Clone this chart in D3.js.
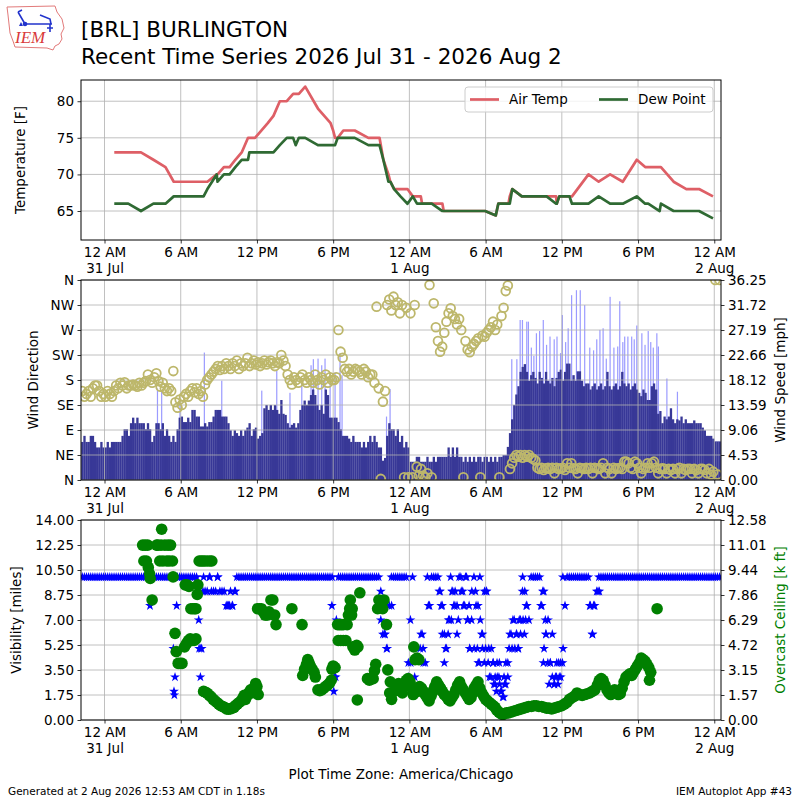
<!DOCTYPE html>
<html>
<head>
<meta charset="utf-8">
<script src="https://cdn.jsdelivr.net/npm/d3@7"></script>
<style>
  body { margin: 0; background: #fff; }
  svg { font-family: "DejaVu Sans", sans-serif; }
</style>
</head>
<body>
<svg id="chart"></svg>
<script>
// ---- data (hours since 31 Jul 00:00 local) ----
var hourTicks = [0, 6, 12, 18, 24, 30, 36, 42, 48];
var hourTickLabels = ["12 AM", "6 AM", "12 PM", "6 PM", "12 AM", "6 AM", "12 PM", "6 PM", "12 AM"];
var dayTickLabels = ["31 Jul", "", "", "", "1 Aug", "", "", "", "2 Aug"];

var tempTicks = [65, 70, 75, 80];
var dirTicks = [0, 45, 90, 135, 180, 225, 270, 315, 360];
var dirTickLabels = ["N", "NE", "E", "SE", "S", "SW", "W", "NW", "N"];
var speedTickLabels = ["0.00", "4.53", "9.06", "13.59", "18.12", "22.66", "27.19", "31.72", "36.25"];
var visTickLabels = ["0.00", "1.75", "3.50", "5.25", "7.00", "8.75", "10.50", "12.25", "14.00"];
var ceilTickLabels = ["0.00", "1.57", "3.15", "4.72", "6.29", "7.86", "9.44", "11.01", "12.58"];
var speedMax = 36.25, visMax = 14, ceilMax = 12.58;

// hourly / special observations
var obsHours = [0.77, 1.87, 2.87, 3.85, 4.8, 5.45, 6.85, 7.8, 8.1, 8.83, 8.9, 9.4, 9.85, 10.3, 10.8,
  11.3, 11.4, 11.85, 12.85, 13.3, 13.8, 14.35, 14.85, 15.05, 15.3, 15.8, 16.8, 17.8, 18.0, 18.15,
  18.36, 18.8, 19.7, 20.77, 21.65, 21.95, 22.35, 22.5, 22.8, 23.3, 23.85, 24.27, 24.6, 24.9, 25.0,
  25.76, 26.6, 26.7, 27.8, 28.8, 29.96, 30.8, 31.0, 31.8, 31.9, 32.1, 32.85, 33.85, 34.8, 35.55,
  35.6, 35.8, 36.6, 36.8, 38.1, 38.9, 39.8, 40.8, 41.9, 42.56, 42.8, 43.7, 43.8, 44.8, 45.8, 46.8, 47.9];
var airTemp = [73, 73, 73, 72, 71, 69, 69, 69, 69, 70, 70, 71, 71, 72, 73,
  75, 75, 75, 77, 78, 80, 80, 81, 81, 81, 82, 79, 77, 76, 75,
  75, 76, 76, 75, 75, 72, 70, 69, 68, 68, 68, 67, 67, 67, 66,
  66, 66, 65, 65, 65, 65, 64.4, 66, 66, 67, 68, 67, 67, 67, 67,
  66, 67, 67, 67, 70, 69, 70, 69, 72, 71, 71, 71, 71, 69, 68, 68, 67];
var dewPoint = [66, 66, 65, 66, 66, 67, 67, 67, 68, 70, 69, 70, 70, 71, 72,
  72, 73, 73, 73, 73, 74, 75, 75, 74, 75, 75, 74, 74, 74, 74,
  75, 75, 75, 74, 74, 72, 69, 69, 68, 67, 66, 67, 66, 66, 66,
  66, 65, 65, 65, 65, 65, 64.4, 66, 66, 66, 68, 67, 67, 67, 66,
  66, 67, 67, 66, 66, 67, 66, 66, 67, 66, 66, 65, 66, 65, 65, 65, 64];

// 10 minute wind record, first value 30 Jul 22:10
var windStartHour = -11 / 6;
var windStepHours = 1 / 6;
var windSpeed = [
  6.9, 8.0, 6.9, 6.9, 8.0,
  8.0, 6.9, 5.9, 5.9, 6.9, 5.9,
  5.9, 6.9, 5.9, 6.9, 6.9, 6.9,
  6.9, 6.9, 8.0, 9.2, 9.2, 8.0,
  10.3, 11.3, 10.3, 11.3, 10.3, 10.3,
  10.3, 9.2, 10.3, 9.2, 6.9, 8.0,
  10.3, 10.3, 9.2, 10.3, 8.0, 9.2,
  8.0, 6.9, 8.0, 6.9, 9.2, 11.3,
  11.5, 10.5, 10.5, 11.3, 10.5, 12.7,
  12.7, 11.5, 11.5, 9.7, 9.7, 10.3,
  9.7, 10.5, 10.5, 11.5, 12.7, 12.7,
  12.7, 11.5, 11.5, 11.5, 10.3, 9.0,
  8.0, 9.0, 8.5, 8.0, 9.0, 8.0,
  9.0, 9.5, 10.3, 8.0, 9.2, 9.5,
  7.5, 8.0, 8.5, 13.0, 13.6, 12.7,
  13.6, 12.7, 13.6, 12.7, 12.0, 14.5,
  12.0, 11.8, 10.3, 9.5, 10.0, 10.3,
  9.5, 10.3, 12.7, 13.6, 14.4, 13.6,
  14.4, 15.4, 16.4, 15.4, 13.6, 12.7,
  13.6, 12.0, 16.4, 15.4, 11.3, 11.3,
  11.3, 11.3, 10.5, 9.2, 8.0, 8.0,
  8.0, 7.5, 6.9, 8.0, 6.9, 6.9,
  6.9, 5.9, 6.9, 5.9, 6.9, 8.0,
  6.9, 8.0, 6.9, 5.9, 5.9, 3.5,
  4.0, 8.0, 10.3, 9.2, 9.2, 8.0,
  9.2, 6.9, 8.0, 5.9, 6.9, 5.9,
  3.3, 3.3, 3.3, 4.2, 4.2, 3.3,
  3.3, 3.3, 4.2, 3.3, 3.3, 4.2,
  3.3, 4.2, 4.2, 4.2, 4.2, 4.2,
  5.9, 4.2, 5.9, 4.2, 5.9, 4.2,
  4.2, 3.3, 4.2, 3.3, 4.2, 3.3,
  4.2, 3.3, 4.2, 4.2, 3.3, 4.2,
  4.2, 3.3, 4.2, 3.3, 4.2, 3.3,
  4.2, 4.2, 4.5, 4.5, 6.0, 8.5,
  11.0, 13.6, 15.5, 17.0, 19.6, 20.5,
  21.0, 19.6, 18.0, 19.0, 19.6, 18.5,
  17.5, 19.6, 18.5, 17.5, 19.6, 18.0,
  17.5, 18.5, 17.0, 18.5, 19.6, 20.0,
  18.0, 19.6, 21.1, 21.1, 18.0, 19.0,
  18.0, 19.7, 19.7, 18.0, 17.0, 17.5,
  17.5, 16.4, 17.0, 17.5, 16.4, 17.0,
  17.5, 16.4, 17.0, 19.6, 17.0, 16.4,
  17.0, 17.5, 16.4, 17.0, 19.6, 17.5,
  17.0, 17.5, 16.4, 17.0, 17.5, 16.4,
  15.8, 15.2, 16.4, 15.8, 14.5, 14.5,
  17.0, 17.5, 16.4, 12.0, 12.5, 10.3,
  11.5, 11.0, 11.5, 13.0, 11.0, 10.3,
  11.0, 10.8, 11.5, 10.3, 11.0, 10.3,
  10.3, 10.3, 10.8, 10.3, 10.3, 10.3,
  9.5, 9.0, 8.0, 8.0, 8.0, 7.5,
  7.0, 7.0, 7.0
];
var windDir = [
  160, 150, 155, 160, 150,
  165, 170, 170, 160, 150, 155,
  150, 160, 155, 150, 160, 170,
  165, 175, 170, 176, 165, 170,
  170, 172, 170, 168, 175, 170,
  175, 178, 190, 180, 175, 185,
  192, 178, 168, 175, 165, 160,
  165, 160, 196, 140, 130, 145,
  135, 150, 155, 150, 160, 165,
  158, 165, 155, 160, 150, 172,
  180, 185, 190, 195, 200, 205,
  198, 205, 200, 210, 205, 200,
  210, 205, 215, 200, 210, 205,
  210, 220, 205, 210, 215, 208,
  212, 205, 210, 215, 208, 212,
  215, 210, 205, 212, 210, 225,
  215, 205, 190, 180, 172, 185,
  180, 175, 185, 190, 180, 175,
  185, 180, 175, 190, 180, 172,
  185, 180, 190, 175, 185, 180,
  180, 185, 270, 231, 220, 200,
  195, 200, 190, 195, 200, 198,
  195, 190, 200, 195, 185, 190,
  190, 175, 312, 165, 2, 141,
  160, 315, 325, 305, 330, 315,
  320, 300, 315, 5, 310, 5,
  300, 5, 315, 24, 8, 20,
  8, 5, 12, 351, 5, 318,
  275, 250, 231, 240, 265, 285,
  300, 309, 295, 290, 280, 290,
  270, 5, 250, 235, 230, 240,
  245, 250, 255, 5, 260, 258,
  265, 270, 275, 285, 270, 280,
  5, 295, 310, 340, 350, 20,
  30, 40, 45, 42, 45, 40,
  45, 42, 45, 40, 38, 35,
  22, 20, 22, 18, 21, 22,
  20, 22, 12, 22, 20, 21,
  22, 18, 30, 22, 30, 21,
  20, 12, 22, 21, 20, 22,
  20, 22, 12, 22, 21, 20,
  22, 30, 12, 22, 20, 12,
  22, 20, 21, 22, 20, 33,
  33, 30, 22, 20, 33, 30,
  22, 12, 20, 22, 30, 22,
  30, 33, 22, 12, 20, 21,
  20, 12, 20, 18, 20, 12,
  20, 22, 12, 20, 18, 20,
  20, 12, 20, 18, 12, 20,
  20, 18, 12, 20, 10, 15,
  360, 10, 360
];
// peak gusts [hour, mph]
var windGusts = [
  [4.17, 16.6], [4.5, 16.3], [5.94, 14.0], [7.86, 23.1], [9.23, 18.0], [12.38, 16.2], [13.56, 19.9],
  [14.6, 15.8], [15.53, 17.5], [16.26, 20.8], [16.44, 21.9], [16.81, 22.0], [17.1, 20.8], [17.36, 22.0],
  [17.76, 19.5], [18.15, 19.5], [18.54, 23.0], [18.7, 19.0], [22.2, 11.5], [22.48, 16.5],
  [32.06, 21.9], [32.46, 21.9], [32.72, 29.0], [32.9, 29.0], [33.24, 28.7], [33.37, 28.7], [33.6, 24.0],
  [33.8, 22.5], [34.0, 26.6], [34.25, 27.0], [34.54, 29.0], [34.8, 24.5], [35.07, 26.0], [35.4, 25.5],
  [35.62, 26.0], [35.9, 23.0], [36.04, 29.9], [36.3, 25.0], [36.5, 27.5], [36.77, 33.5], [37.15, 34.4],
  [37.45, 34.4], [37.8, 31.7], [38.2, 24.0], [38.5, 23.5], [38.75, 25.5], [39.0, 27.2], [39.25, 27.5],
  [39.5, 22.0], [39.8, 33.2], [40.1, 24.0], [40.4, 24.2], [40.56, 32.4], [40.8, 25.0], [40.95, 26.0],
  [41.2, 26.0], [41.5, 26.0], [41.7, 25.5], [41.9, 28.0], [42.3, 26.6], [42.55, 24.5], [42.8, 27.0],
  [43.0, 25.0], [43.2, 24.0], [43.48, 26.6], [43.6, 24.2], [44.27, 18.4], [45.1, 16.0]
];

// visibility on the same 10 minute record (miles), null = missing
var visibility = [
  10, 10, 10, 10, 10,
  10, 10, 10, 10, 10, 10,
  10, 10, 10, 10, 10, 10,
  10, 10, 10, 10, 10, 10,
  10, 10, 10, 10, 10, 10,
  10, 10, 10, 10, 10, 10,
  10, 10, 10, 10, 10, 10,
  10, 10, 10, 10, 10, 10,
  10, 10, 10, 10, 10, 10,
  10, 10, 7, 5, 9, 9,
  9, 10, 9, 9, 9, 10,
  9, 9, 9, 8, 8, 9,
  8, 9, 10, 10, 10, 10,
  10, 10, 10, 10, 10, 10,
  10, 10, 10, 10, 10, 10,
  10, 10, 10, 10, 10, 10,
  10, 10, 10, 10, 10, 10,
  10, 10, 10, 10, 10, 10,
  10, 10, 10, 10, 10, 10,
  10, 10, 10, 10, 10, 10,
  3, 7, 10, 10, 10, 10,
  10, 10, 10, 10, 10, 10,
  10, 10, 10, 10, 10, 10,
  10, 10, 10, 10, 7, 6,
  6, 5, 8, 10, 10, 10,
  10, 10, 10, 10, 10, 4,
  7, 10, 3, null, null, 6,
  5, 4, 10, 8, 10, 10,
  10, 10, 9, 8, 6, 5,
  7, 10, 9, 8, 6, 10,
  9, 8, 10, 7, 5, 9,
  10, 8, 4, 7, 6, 9,
  9, 5, 3, 4, 2.5, 3,
  4, 2, 1.6, 2.5, 3, 6,
  5, 7, 6, 5, 7, 10,
  9, 8, 7, 10, 10, 10,
  10, 10, 8, 9, 6, 7,
  4, 6, 2.5, 3, 4, 3,
  10, 8, 10, 10, 10, 10,
  10, 10, 10, 10, 10, 10,
  10, 8, 6, 8, 9, 10,
  10, 10, 10, 10, 10, 10,
  10, 10, 10, 10, 10, 10,
  10, 10, 10, 10, 10, 10,
  10, 10, 10, 10, 10, 10,
  10, 10, 10, 10, 10, 10,
  10, 10, 10, 10, 10, 10,
  10, 10, 10, 10, 10, 10,
  10, 10, 10, 10, 10, 10,
  10, 10, 10, 10, 10, 10,
  10, 10, 10
];
// additional one-minute visibility reports [hour, miles]
var visibilityExtra = [
  [3.58, 8], [5.42, 5], [5.47, 2], [5.5, 1.75], [5.55, 3], [5.68, 8],
  [7.45, 5], [7.55, 3], [7.65, 5], [7.8, 10], [8.3, 10], [8.9, 10], [9.7, 8], [9.85, 8], [10.05, 8], [10.3, 9],
  [17.9, 8], [18.05, 2], [18.2, 3],
  [21.75, 9], [21.85, 8], [22.05, 6], [22.2, 5], [22.6, 8],
  [23.85, 2.5], [23.95, 3], [24.1, 4], [24.2, 2.5],
  [24.85, 5], [25.0, 6], [25.1, 4], [25.5, 8],
  [26.35, 9], [26.5, 8], [26.6, 6], [26.75, 4], [26.85, 5], [27.05, 6], [27.15, 7], [27.3, 7], [27.35, 9],
  [27.5, 8], [27.6, 9], [27.75, 8], [27.85, 7], [28.05, 10], [28.2, 9], [28.35, 8], [28.5, 10], [28.6, 7],
  [28.7, 8], [28.75, 5], [28.9, 7], [29.1, 5], [29.2, 9], [29.35, 5], [29.4, 8], [29.5, 4], [29.55, 10],
  [29.7, 6], [29.75, 5], [29.9, 4], [30.0, 5], [30.05, 9], [30.2, 4], [30.3, 3], [30.45, 5], [30.6, 4],
  [30.65, 2.5], [30.75, 3], [30.85, 2], [30.9, 4], [31.05, 3], [31.1, 2.5], [31.2, 2], [31.35, 1.6],
  [31.45, 3], [31.5, 2.5], [31.6, 4], [31.75, 4], [31.85, 5], [32.0, 6], [32.15, 7], [32.3, 5], [32.45, 6],
  [32.55, 5], [32.65, 7], [32.75, 6], [32.9, 9], [32.95, 7], [33.05, 6], [33.15, 7], [33.2, 8],
  [34.35, 8], [34.5, 9], [34.6, 5], [34.55, 4], [34.7, 7], [34.75, 6], [34.9, 4], [35.0, 2.5], [35.1, 4],
  [35.25, 3], [35.4, 2.5], [35.5, 3], [35.6, 4], [35.7, 2.5], [35.8, 3], [35.9, 4], [36.1, 5], [36.05, 4],
  [38.2, 8], [38.4, 6], [38.5, 8], [38.85, 9], [38.95, 9]
];
// overcast ceiling [hour, k ft]
var ceiling = [
  [3.0, 11.0], [3.1, 10.0], [3.2, 11.0], [3.3, 10.0], [3.4, 11.0], [3.45, 9.6], [3.55, 9.2], [3.6, 8.9], [3.75, 7.55],
  [4.1, 11.0], [4.2, 11.0], [4.35, 10.0], [4.45, 11.0], [4.5, 12.0], [4.6, 10.0], [4.75, 11.0], [4.9, 10.0],
  [5.0, 11.0], [5.1, 10.0], [5.2, 11.0], [5.35, 10.0], [5.4, 9.0],
  [5.55, 5.45], [5.65, 4.3], [5.8, 3.56], [5.95, 3.56], [6.1, 3.56],
  [6.3, 4.6], [6.45, 4.8], [6.6, 5.0], [6.75, 5.1], [6.9, 5.0], [7.05, 5.0], [7.2, 5.1],
  [6.35, 8.5], [6.5, 8.5], [6.65, 8.4], [6.8, 7.0], [6.95, 7.0], [7.1, 7.0], [7.2, 7.0], [7.3, 7.9], [7.35, 8.5],
  [7.45, 10.0], [7.6, 10.0], [7.75, 10.0], [7.9, 10.0], [8.1, 10.0], [8.3, 10.0], [8.45, 10.0],
  [7.8, 1.8], [7.95, 1.75], [8.1, 1.68], [8.25, 1.55], [8.4, 1.45], [8.55, 1.3], [8.7, 1.2], [8.85, 1.1],
  [9.0, 1.0], [9.15, 0.9], [9.3, 0.85], [9.45, 0.8], [9.6, 0.7], [9.75, 0.68], [9.9, 0.7], [10.05, 0.75],
  [10.2, 0.8], [10.3, 0.9], [10.45, 1.0], [10.6, 1.1], [10.75, 1.2], [10.9, 1.4], [11.0, 1.55], [11.1, 1.3],
  [11.2, 1.5], [11.35, 1.7], [11.5, 1.9], [11.6, 1.7], [11.75, 2.0], [11.9, 2.3], [12.0, 2.1], [12.1, 1.6],
  [12.05, 7.0], [12.2, 7.0], [12.35, 7.0], [12.5, 6.8], [12.65, 6.6], [12.8, 6.6], [12.95, 6.8], [13.1, 7.55],
  [13.25, 7.55], [13.4, 6.6], [13.5, 6.0], [14.75, 7.0], [15.55, 6.0],
  [15.6, 2.8], [15.75, 3.2], [15.9, 3.5], [16.0, 3.8], [16.1, 3.6], [16.2, 3.4], [16.35, 3.2], [16.5, 3.0], [16.6, 2.7],
  [16.8, 1.9], [16.95, 1.85], [17.1, 1.9], [17.25, 2.0], [17.4, 2.1], [17.55, 2.2], [17.7, 2.3], [17.85, 2.5],
  [17.9, 3.2], [18.0, 3.4], [18.15, 3.3],
  [18.35, 6.0], [18.5, 6.0], [18.65, 6.0], [18.8, 6.0], [18.4, 5.0], [18.6, 5.0], [18.8, 5.0], [19.0, 5.0],
  [19.1, 6.0], [19.2, 6.6], [19.3, 7.0], [19.35, 7.55], [19.45, 6.6], [19.5, 7.0],
  [19.55, 4.6], [19.7, 4.4], [19.85, 4.7], [19.95, 4.6], [19.9, 1.26], [20.1, 8.0],
  [20.7, 2.6], [20.85, 2.5], [21.0, 2.6], [21.15, 2.6], [21.25, 3.1], [21.35, 3.5],
  [21.5, 7.0], [21.6, 7.55], [21.75, 7.3], [21.9, 7.0], [22.0, 7.55], [22.2, 6.0],
  [22.3, 3.15], [22.5, 2.4], [22.45, 1.7], [22.6, 1.3], [22.8, 1.8], [23.0, 2.0], [23.15, 2.3],
  [23.3, 2.0], [23.45, 1.7], [23.6, 2.2], [23.75, 2.5], [23.9, 2.6], [24.05, 2.4], [24.2, 2.0], [24.3, 1.6],
  [24.35, 4.6], [24.45, 3.8], [24.6, 3.9], [24.75, 3.8],
  [24.5, 2.0], [24.65, 1.8], [24.8, 2.1], [24.95, 2.0], [25.1, 1.8], [25.25, 1.6], [25.4, 1.4], [25.55, 1.2],
  [25.7, 1.5], [25.85, 1.8], [26.0, 2.1], [26.15, 2.4], [26.3, 2.2], [26.45, 2.0], [26.6, 1.8], [26.75, 1.6],
  [26.9, 1.5], [27.05, 1.3], [27.2, 1.2], [27.35, 1.4], [27.5, 1.6], [27.65, 1.9], [27.8, 2.2], [27.95, 2.4],
  [28.1, 2.1], [28.25, 1.9], [28.4, 1.7], [28.55, 1.5], [28.7, 1.3], [28.85, 1.4], [29.0, 1.7], [29.1, 2.0],
  [29.25, 2.2], [29.4, 2.4], [29.55, 2.0], [29.7, 1.7], [29.85, 1.5], [30.0, 1.3], [30.15, 1.2], [30.3, 1.1],
  [30.45, 1.0], [30.6, 0.9], [30.75, 0.8], [30.9, 0.6], [31.05, 0.5], [31.2, 0.4], [31.35, 0.35], [31.5, 0.4],
  [31.65, 0.45], [31.8, 0.45], [32.0, 0.5], [32.2, 0.55], [32.4, 0.6], [32.6, 0.65], [32.8, 0.7], [33.0, 0.75],
  [33.2, 0.8], [33.4, 0.85], [33.6, 0.85], [33.8, 0.9], [34.0, 0.9], [34.2, 0.85], [34.4, 0.85], [34.6, 0.8],
  [34.8, 0.75], [35.0, 0.75], [35.2, 0.7], [35.4, 0.75], [35.6, 0.8], [35.8, 0.85], [36.0, 0.9], [36.2, 1.0],
  [36.4, 1.1], [36.6, 1.3], [36.8, 1.4], [37.0, 1.5], [37.2, 1.7], [37.4, 1.6], [37.6, 1.55], [37.8, 1.6],
  [38.0, 1.65], [38.2, 1.7], [38.4, 1.8], [38.6, 1.9], [38.8, 2.2], [38.95, 2.5], [39.1, 2.6], [39.25, 2.5],
  [39.4, 2.2], [39.55, 1.9], [39.7, 1.7], [39.85, 1.6], [40.0, 1.7], [40.15, 1.9], [40.3, 1.7], [40.45, 1.6],
  [40.6, 1.65], [40.75, 2.0], [40.9, 2.4], [41.05, 2.7], [41.2, 2.8], [41.35, 2.9], [41.5, 2.8], [41.65, 3.0],
  [41.8, 3.2], [41.95, 3.4], [42.1, 3.6], [42.25, 3.9], [42.4, 3.8], [42.55, 3.7], [42.7, 3.5], [42.85, 3.3],
  [43.0, 3.0], [42.9, 2.5], [43.5, 7.0]
];

// ---- layout ----
var width = 800;
var height = 800;
var panels = [
  { id: "p1", top: 80, bottom: 240 },
  { id: "p2", top: 280, bottom: 480 },
  { id: "p3", top: 520, bottom: 720 }
];

var svg = d3.select("#chart")
  .attr("width", width)
  .attr("height", height);

var x = d3.scaleLinear().domain([-1.85, 48.53]).range([81, 721]);
var tempY = d3.scaleLinear().domain([61.04, 82.9]).range([panels[0].bottom, panels[0].top]);
var dirY = d3.scaleLinear().domain([0, 360]).range([panels[1].bottom, panels[1].top]);
var speedY = d3.scaleLinear().domain([0, speedMax]).range([panels[1].bottom, panels[1].top]);
var visY = d3.scaleLinear().domain([0, visMax]).range([panels[2].bottom, panels[2].top]);
var ceilY = d3.scaleLinear().domain([0, ceilMax]).range([panels[2].bottom, panels[2].top]);

var speedTicks = speedTickLabels.map(function(d, i) { return i * speedMax / 8; });
var visTicks = visTickLabels.map(function(d, i) { return i * visMax / 8; });
var ceilTicks = ceilTickLabels.map(function(d, i) { return i * ceilMax / 8; });

function windTime(i) { return windStartHour + i * windStepHours; }

var defs = svg.append("defs");
panels.forEach(function(p) {
  defs.append("clipPath").attr("id", "clip-" + p.id)
    .append("rect")
    .attr("x", x.range()[0]).attr("y", p.top)
    .attr("width", x.range()[1] - x.range()[0]).attr("height", p.bottom - p.top);
});

function addGrid(p, yScale, yTicks) {
  var g = svg.append("g").attr("stroke", "#b0b0b0").attr("stroke-width", 0.8);
  g.selectAll("line.vgrid").data(hourTicks).enter().append("line")
    .attr("class", "vgrid")
    .attr("x1", x).attr("x2", x)
    .attr("y1", p.top).attr("y2", p.bottom);
  g.selectAll("line.hgrid").data(yTicks).enter().append("line")
    .attr("class", "hgrid")
    .attr("x1", x.range()[0]).attr("x2", x.range()[1])
    .attr("y1", yScale).attr("y2", yScale);
}

function addFrame(p) {
  svg.append("rect")
    .attr("x", x.range()[0]).attr("y", p.top)
    .attr("width", x.range()[1] - x.range()[0]).attr("height", p.bottom - p.top)
    .attr("fill", "none").attr("stroke", "#000").attr("stroke-width", 1);
}

function styleAxis(g) {
  g.select(".domain").remove();
  g.attr("font-family", null).attr("font-size", 13.5);
  g.selectAll(".tick line").attr("stroke", "#000").attr("stroke-width", 0.8);
  g.selectAll(".tick text").attr("fill", "#000");
}

function addTimeAxis(p) {
  var g = svg.append("g")
    .attr("transform", "translate(0," + p.bottom + ")")
    .call(d3.axisBottom(x).tickValues(hourTicks).tickSize(3.5).tickPadding(3.5).tickSizeOuter(0)
      .tickFormat(function(d, i) { return hourTickLabels[i]; }));
  styleAxis(g);
  g.selectAll(".tick text").each(function(d, i) {
    if (dayTickLabels[i]) {
      d3.select(this).append("tspan").attr("x", 0).attr("dy", "1.2em").text(dayTickLabels[i]);
    }
  });
}

function addLeftAxis(yScale, ticks, labels) {
  var g = svg.append("g")
    .attr("transform", "translate(" + x.range()[0] + ",0)")
    .call(d3.axisLeft(yScale).tickValues(ticks).tickSize(3.5).tickPadding(3.5).tickSizeOuter(0)
      .tickFormat(function(d, i) { return labels ? labels[i] : d; }));
  styleAxis(g);
}

function addRightAxis(yScale, ticks, labels) {
  var g = svg.append("g")
    .attr("transform", "translate(" + x.range()[1] + ",0)")
    .call(d3.axisRight(yScale).tickValues(ticks).tickSize(3.5).tickPadding(3.5).tickSizeOuter(0)
      .tickFormat(function(d, i) { return labels[i]; }));
  styleAxis(g);
}

function addYLabel(text, xPos, p, color) {
  svg.append("text")
    .attr("transform", "translate(" + xPos + "," + ((p.top + p.bottom) / 2) + ") rotate(-90)")
    .attr("text-anchor", "middle")
    .attr("font-size", 13.5)
    .attr("fill", color || "#000")
    .text(text);
}

// ---- title + logo ----
var logo = svg.append("g");
logo.append("path")
  .attr("d", "M7,7 L55,6 L57,12 L62,19 L64,28 L61,34 L62,39 L59,44 L55,46 L53,50 L47,48 L15,47 L13,41 L10,33 L9,24 L8,15 Z")
  .attr("fill", "#fff").attr("stroke", "#e27a7a").attr("stroke-width", 1);
logo.append("path")
  .attr("d", "M25,24 L52,24 M25,24 L18,12 M18,12 L22,10 M40,15 L50,19 L51,24 M50,24 L50,32 M47,28 L53,28")
  .attr("fill", "none").attr("stroke", "#2233cc").attr("stroke-width", 1.6);
logo.append("circle").attr("cx", 25).attr("cy", 24).attr("r", 2.3).attr("fill", "#2233cc");
logo.append("path").attr("d", "M19,26 L21,22 L23,26 Z").attr("fill", "#2233cc");
logo.append("text")
  .attr("x", 15).attr("y", 43)
  .attr("font-family", "Liberation Serif, serif").attr("font-style", "italic")
  .attr("font-size", 17).attr("fill", "#d93a3a")
  .text("IEM");

svg.append("text").attr("x", 81).attr("y", 37).attr("font-size", 21.5).text("[BRL] BURLINGTON");
svg.append("text").attr("x", 81).attr("y", 64).attr("font-size", 21.5).text("Recent Time Series 2026 Jul 31 - 2026 Aug 2");

// ---- panel 1: temperature ----
var p1 = panels[0];
addGrid(p1, tempY, tempTicks);
var tempLine = function(values) {
  return d3.line()
    .x(function(d) { return x(d); })
    .y(function(d, i) { return tempY(values[i]); })(obsHours);
};
var g1 = svg.append("g").attr("clip-path", "url(#clip-p1)");
g1.append("path").attr("d", tempLine(airTemp))
  .attr("fill", "none").attr("stroke", "#de5f66").attr("stroke-width", 2.7).attr("stroke-linejoin", "round");
g1.append("path").attr("d", tempLine(dewPoint))
  .attr("fill", "none").attr("stroke", "#2f6a33").attr("stroke-width", 2.7).attr("stroke-linejoin", "round");
addFrame(p1);
addTimeAxis(p1);
addLeftAxis(tempY, tempTicks);
addYLabel("Temperature [F]", 25, p1);

var legend = svg.append("g");
legend.append("rect")
  .attr("x", 465).attr("y", 87).attr("width", 248).attr("height", 25).attr("rx", 3)
  .attr("fill", "#fff").attr("fill-opacity", 0.8).attr("stroke", "#cccccc");
var legendItems = [
  { label: "Air Temp", color: "#de5f66", x0: 470 },
  { label: "Dew Point", color: "#2f6a33", x0: 599 }
];
legendItems.forEach(function(d) {
  legend.append("line").attr("x1", d.x0).attr("x2", d.x0 + 29).attr("y1", 99.5).attr("y2", 99.5)
    .attr("stroke", d.color).attr("stroke-width", 2.7);
  legend.append("text").attr("x", d.x0 + 39).attr("y", 104).attr("font-size", 13.5).text(d.label);
});

// ---- panel 2: wind ----
var p2 = panels[1];
var g2 = svg.append("g").attr("clip-path", "url(#clip-p2)");
g2.selectAll("rect.gust").data(windGusts).enter().append("rect")
  .attr("class", "gust")
  .attr("x", function(d) { return x(d[0]) - 0.6; })
  .attr("width", 1.2)
  .attr("y", function(d) { return speedY(d[1]); })
  .attr("height", function(d) { return speedY(0) - speedY(d[1]); })
  .attr("fill", "#9b9bff");
g2.selectAll("rect.wind").data(windSpeed).enter().append("rect")
  .attr("class", "wind")
  .attr("x", function(d, i) { return x(windTime(i)); })
  .attr("width", function(d, i) { return x(windTime(i + 1)) - x(windTime(i)) + 0.2; })
  .attr("y", function(d) { return speedY(d); })
  .attr("height", function(d) { return speedY(0) - speedY(d); })
  .attr("fill", "#383897");
addGrid(p2, dirY, dirTicks);
var g2b = svg.append("g").attr("clip-path", "url(#clip-p2)");
g2b.selectAll("circle.dir").data(windDir).enter().append("circle")
  .attr("class", "dir")
  .attr("cx", function(d, i) { return x(windTime(i) + windStepHours / 2); })
  .attr("cy", function(d) { return dirY(d); })
  .attr("r", 4.4)
  .attr("fill", "none")
  .attr("stroke", "#bdb76b")
  .attr("stroke-width", 1.8);
addFrame(p2);
addTimeAxis(p2);
addLeftAxis(dirY, dirTicks, dirTickLabels);
addRightAxis(speedY, speedTicks, speedTickLabels);
addYLabel("Wind Direction", 38, p2);
addYLabel("Wind Speed [mph]", 785, p2);

// ---- panel 3: visibility + ceiling ----
var p3 = panels[2];
addGrid(p3, visY, visTicks);
var star = d3.symbol().type(d3.symbolStar).size(30);
var visPoints = visibility
  .map(function(d, i) { return [windTime(i) + windStepHours / 2, d]; })
  .filter(function(d) { return d[1] !== null; })
  .concat(visibilityExtra);
var g3 = svg.append("g").attr("clip-path", "url(#clip-p3)");
g3.selectAll("path.vis").data(visPoints).enter().append("path")
  .attr("class", "vis")
  .attr("d", star)
  .attr("transform", function(d) { return "translate(" + x(d[0]) + "," + visY(d[1]) + ")"; })
  .attr("fill", "#0000ff");
g3.selectAll("circle.ceil").data(ceiling).enter().append("circle")
  .attr("class", "ceil")
  .attr("cx", function(d) { return x(d[0]); })
  .attr("cy", function(d) { return ceilY(d[1]); })
  .attr("r", 5.8)
  .attr("fill", "#008000");
addFrame(p3);
addTimeAxis(p3);
addLeftAxis(visY, visTicks, visTickLabels);
addRightAxis(ceilY, ceilTicks, ceilTickLabels);
addYLabel("Visibility [miles]", 21, p3);
addYLabel("Overcast Ceiling [k ft]", 785, p3, "#008000");

// ---- footer ----
svg.append("text").attr("x", 401).attr("y", 779).attr("text-anchor", "middle").attr("font-size", 13.5)
  .text("Plot Time Zone: America/Chicago");
svg.append("text").attr("x", 8).attr("y", 795).attr("font-size", 10.5)
  .text("Generated at 2 Aug 2026 12:53 AM CDT in 1.18s");
svg.append("text").attr("x", 792).attr("y", 795).attr("text-anchor", "end").attr("font-size", 10.5)
  .text("IEM Autoplot App #43");
</script>
</body>
</html>
